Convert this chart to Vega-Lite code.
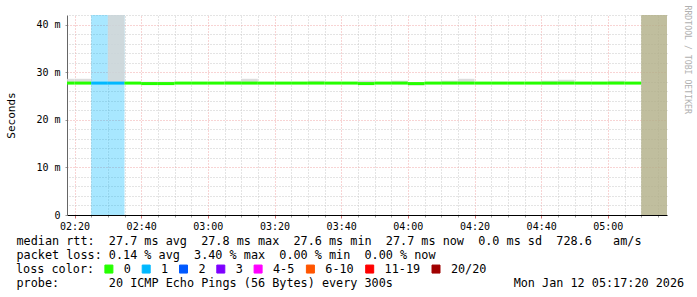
{
  "$schema": "https://vega.github.io/schema/vega-lite/v6.json",
  "width": 600,
  "height": 200,
  "autosize": {"type": "none"},
  "padding": {"left": 67, "top": 15, "right": 30, "bottom": 82},
  "background": "#ffffff",
  "config": {"view": {"stroke": null}, "font": "DejaVu Sans Mono"},
  "datasets": {
    "iv": [
      {"t0": "2026-01-12T02:15:00Z", "t1": "2026-01-12T02:20:00Z", "med": 27.7, "lo": 27.6, "hi": 28.6, "loss": "0"},
      {"t0": "2026-01-12T02:20:00Z", "t1": "2026-01-12T02:25:00Z", "med": 27.7, "lo": 27.6, "hi": 28.6, "loss": "0"},
      {"t0": "2026-01-12T02:25:00Z", "t1": "2026-01-12T02:30:00Z", "med": 27.7, "lo": 27.6, "hi": 27.8, "loss": "1"},
      {"t0": "2026-01-12T02:30:00Z", "t1": "2026-01-12T02:35:00Z", "med": 27.7, "lo": 27.6, "hi": 45.0, "loss": "1"},
      {"t0": "2026-01-12T02:35:00Z", "t1": "2026-01-12T02:40:00Z", "med": 27.7, "lo": 27.6, "hi": 27.8, "loss": "0"},
      {"t0": "2026-01-12T02:40:00Z", "t1": "2026-01-12T02:45:00Z", "med": 27.6, "lo": 27.5, "hi": 28.0, "loss": "0"},
      {"t0": "2026-01-12T02:45:00Z", "t1": "2026-01-12T02:50:00Z", "med": 27.6, "lo": 27.5, "hi": 28.0, "loss": "0"},
      {"t0": "2026-01-12T02:50:00Z", "t1": "2026-01-12T02:55:00Z", "med": 27.7, "lo": 27.6, "hi": 27.8, "loss": "0"},
      {"t0": "2026-01-12T02:55:00Z", "t1": "2026-01-12T03:00:00Z", "med": 27.7, "lo": 27.6, "hi": 27.8, "loss": "0"},
      {"t0": "2026-01-12T03:00:00Z", "t1": "2026-01-12T03:05:00Z", "med": 27.7, "lo": 27.6, "hi": 27.8, "loss": "0"},
      {"t0": "2026-01-12T03:05:00Z", "t1": "2026-01-12T03:10:00Z", "med": 27.7, "lo": 27.6, "hi": 28.2, "loss": "0"},
      {"t0": "2026-01-12T03:10:00Z", "t1": "2026-01-12T03:15:00Z", "med": 27.7, "lo": 27.6, "hi": 28.6, "loss": "0"},
      {"t0": "2026-01-12T03:15:00Z", "t1": "2026-01-12T03:20:00Z", "med": 27.7, "lo": 27.6, "hi": 27.8, "loss": "0"},
      {"t0": "2026-01-12T03:20:00Z", "t1": "2026-01-12T03:25:00Z", "med": 27.7, "lo": 27.6, "hi": 27.8, "loss": "0"},
      {"t0": "2026-01-12T03:25:00Z", "t1": "2026-01-12T03:30:00Z", "med": 27.7, "lo": 27.6, "hi": 27.8, "loss": "0"},
      {"t0": "2026-01-12T03:30:00Z", "t1": "2026-01-12T03:35:00Z", "med": 27.7, "lo": 27.6, "hi": 28.2, "loss": "0"},
      {"t0": "2026-01-12T03:35:00Z", "t1": "2026-01-12T03:40:00Z", "med": 27.7, "lo": 27.6, "hi": 27.8, "loss": "0"},
      {"t0": "2026-01-12T03:40:00Z", "t1": "2026-01-12T03:45:00Z", "med": 27.7, "lo": 27.6, "hi": 27.8, "loss": "0"},
      {"t0": "2026-01-12T03:45:00Z", "t1": "2026-01-12T03:50:00Z", "med": 27.6, "lo": 27.5, "hi": 28.2, "loss": "0"},
      {"t0": "2026-01-12T03:50:00Z", "t1": "2026-01-12T03:55:00Z", "med": 27.7, "lo": 27.6, "hi": 27.8, "loss": "0"},
      {"t0": "2026-01-12T03:55:00Z", "t1": "2026-01-12T04:00:00Z", "med": 27.7, "lo": 27.6, "hi": 28.2, "loss": "0"},
      {"t0": "2026-01-12T04:00:00Z", "t1": "2026-01-12T04:05:00Z", "med": 27.6, "lo": 27.2, "hi": 27.8, "loss": "0"},
      {"t0": "2026-01-12T04:05:00Z", "t1": "2026-01-12T04:10:00Z", "med": 27.7, "lo": 27.6, "hi": 27.8, "loss": "0"},
      {"t0": "2026-01-12T04:10:00Z", "t1": "2026-01-12T04:15:00Z", "med": 27.7, "lo": 27.6, "hi": 28.2, "loss": "0"},
      {"t0": "2026-01-12T04:15:00Z", "t1": "2026-01-12T04:20:00Z", "med": 27.7, "lo": 27.6, "hi": 28.6, "loss": "0"},
      {"t0": "2026-01-12T04:20:00Z", "t1": "2026-01-12T04:25:00Z", "med": 27.7, "lo": 27.6, "hi": 27.8, "loss": "0"},
      {"t0": "2026-01-12T04:25:00Z", "t1": "2026-01-12T04:30:00Z", "med": 27.7, "lo": 27.6, "hi": 27.8, "loss": "0"},
      {"t0": "2026-01-12T04:30:00Z", "t1": "2026-01-12T04:35:00Z", "med": 27.7, "lo": 27.6, "hi": 27.8, "loss": "0"},
      {"t0": "2026-01-12T04:35:00Z", "t1": "2026-01-12T04:40:00Z", "med": 27.7, "lo": 27.6, "hi": 27.8, "loss": "0"},
      {"t0": "2026-01-12T04:40:00Z", "t1": "2026-01-12T04:45:00Z", "med": 27.7, "lo": 27.4, "hi": 28.2, "loss": "0"},
      {"t0": "2026-01-12T04:45:00Z", "t1": "2026-01-12T04:50:00Z", "med": 27.7, "lo": 27.6, "hi": 28.4, "loss": "0"},
      {"t0": "2026-01-12T04:50:00Z", "t1": "2026-01-12T04:55:00Z", "med": 27.7, "lo": 27.6, "hi": 27.8, "loss": "0"},
      {"t0": "2026-01-12T04:55:00Z", "t1": "2026-01-12T05:00:00Z", "med": 27.7, "lo": 27.6, "hi": 27.8, "loss": "0"},
      {"t0": "2026-01-12T05:00:00Z", "t1": "2026-01-12T05:05:00Z", "med": 27.7, "lo": 27.6, "hi": 28.2, "loss": "0"},
      {"t0": "2026-01-12T05:05:00Z", "t1": "2026-01-12T05:10:00Z", "med": 27.7, "lo": 27.6, "hi": 27.8, "loss": "0"}
    ],
    "unk": [
      {"t0": "2026-01-12T05:10:00Z", "t1": "2026-01-12T05:20:00Z"}
    ]
  },
  "resolve": {"axis": {"x": "independent", "y": "independent"}},
  "layer": [
    {
      "data": {"name": "unk"},
      "mark": {"type": "rect", "color": "#b0ae86", "opacity": 0.8, "clip": true},
      "encoding": {
        "x": {
          "field": "t0", "type": "temporal",
          "scale": {"type": "utc", "domain": [1768184265000, 1768195065000]},
          "axis": {
            "orient": "bottom",
            "values": [1768184700000, 1768185000000, 1768185300000, 1768185900000, 1768186200000, 1768186500000, 1768187100000, 1768187400000, 1768187700000, 1768188300000, 1768188600000, 1768188900000, 1768189500000, 1768189800000, 1768190100000, 1768190700000, 1768191000000, 1768191300000, 1768191900000, 1768192200000, 1768192500000, 1768193100000, 1768193400000, 1768193700000, 1768194300000, 1768194600000, 1768194900000],
            "grid": true, "gridColor": "#c8c8c8", "gridDash": [1, 2], "gridWidth": 1,
            "labels": false, "ticks": true, "tickSize": 2, "tickColor": "#999999",
            "domain": false,
            "title": "probe:\u00a0\u00a0\u00a0\u00a0\u00a0\u00a0\u00a020 ICMP Echo Pings (56 Bytes) every 300s\u00a0\u00a0\u00a0\u00a0\u00a0\u00a0\u00a0\u00a0\u00a0\u00a0\u00a0\u00a0\u00a0\u00a0\u00a0\u00a0\u00a0Mon Jan 12 05:17:20 2026",
            "titleFont": "DejaVu Sans Mono", "titleFontSize": 11.8, "titleFontWeight": "normal", "titleColor": "#000000",
            "titleAlign": "left", "titleAnchor": "start", "titleBaseline": "alphabetic",
            "titleX": -51, "titleY": 71.3
          }
        },
        "x2": {"field": "t1"}
      }
    },
    {
      "data": {"name": "iv"},
      "transform": [{"filter": "datum.loss != '0'"}],
      "mark": {"type": "rect", "opacity": 0.34, "clip": true},
      "encoding": {
        "x": {
          "field": "t0", "type": "temporal",
          "scale": {"type": "utc", "domain": [1768184265000, 1768195065000]},
          "axis": {
            "orient": "bottom",
            "values": [1768184400000, 1768185600000, 1768186800000, 1768188000000, 1768189200000, 1768190400000, 1768191600000, 1768192800000, 1768194000000],
            "format": "%H:%M",
            "grid": true, "gridColor": "#f0a8a8", "gridDash": [1, 2], "gridWidth": 1,
            "labelFont": "DejaVu Sans Mono", "labelFontSize": 10, "labelColor": "#000000", "labelPadding": 3,
            "ticks": true, "tickSize": 3, "tickColor": "#d07070",
            "domain": true, "domainColor": "#000000", "domainWidth": 1,
            "title": [
              "median rtt:\u00a0\u00a027.7 ms avg\u00a0\u00a027.8 ms max\u00a0\u00a027.6 ms min\u00a0\u00a027.7 ms now\u00a0\u00a00.0 ms sd\u00a0\u00a0728.6\u00a0\u00a0\u00a0am/s",
              "packet loss: 0.14 % avg\u00a0\u00a03.40 % max\u00a0\u00a00.00 % min\u00a0\u00a00.00 % now"
            ],
            "titleFont": "DejaVu Sans Mono", "titleFontSize": 11.8, "titleFontWeight": "normal", "titleColor": "#000000",
            "titleAlign": "left", "titleAnchor": "start", "titleBaseline": "alphabetic",
            "titleX": -51, "titleY": 29.5, "titleLineHeight": 13.9
          }
        },
        "x2": {"field": "t1"},
        "color": {
          "field": "loss", "type": "nominal",
          "scale": {
            "domain": ["0", "1", "2", "3", "4-5", "6-10", "11-19", "20/20"],
            "range": ["#26ff00", "#00b8ff", "#0059ff", "#7e00ff", "#ff00ff", "#ff5500", "#ff0000", "#a00000"]
          },
          "legend": {
            "title": "loss color:",
            "orient": "none", "legendX": -51, "legendY": 248,
            "direction": "horizontal",
            "titleOrient": "left", "titleFont": "DejaVu Sans Mono", "titleFontSize": 11.8, "titleFontWeight": "normal", "titleColor": "#000000", "titlePadding": 8,
            "labelFont": "DejaVu Sans Mono", "labelFontSize": 11.8, "labelColor": "#000000", "labelOffset": 9,
            "columnPadding": 8.3,
            "symbolType": "square", "symbolSize": 64, "symbolOpacity": 1,
            "symbolStrokeColor": "#000000", "symbolStrokeWidth": 1,
            "encode": {"symbols": {"update": {"stroke": {"value": "#000000"}, "strokeWidth": {"value": 1}, "opacity": {"value": 1}}}}
          }
        }
      }
    },
    {
      "data": {"name": "iv"},
      "mark": {"type": "rect", "color": "#d6d6d6", "opacity": 0.85, "clip": true},
      "encoding": {
        "x": {"field": "t0", "type": "temporal", "scale": {"type": "utc", "domain": [1768184265000, 1768195065000]}, "axis": null},
        "x2": {"field": "t1"},
        "y": {
          "field": "lo", "type": "quantitative",
          "scale": {"domain": [0, 42], "nice": false, "zero": true},
          "axis": {
            "orient": "right",
            "values": [2, 4, 6, 8, 12, 14, 16, 18, 22, 24, 26, 28, 32, 34, 36, 38, 42],
            "grid": true, "gridColor": "#c8c8c8", "gridDash": [1, 2], "gridWidth": 1,
            "labels": false, "ticks": false, "domain": false,
            "title": "RRDTOOL / TOBI OETIKER",
            "titleAngle": 90, "titleAlign": "left", "titleBaseline": "middle",
            "titleX": 19, "titleY": -10,
            "titleFont": "DejaVu Sans Mono", "titleFontSize": 8.2, "titleFontWeight": "normal", "titleColor": "#b0b0b0"
          }
        },
        "y2": {"field": "hi"}
      }
    },
    {
      "data": {"name": "iv"},
      "mark": {"type": "rule", "strokeWidth": 3, "clip": true},
      "encoding": {
        "x": {"field": "t0", "type": "temporal", "scale": {"type": "utc", "domain": [1768184265000, 1768195065000]}, "axis": null},
        "x2": {"field": "t1"},
        "y": {
          "field": "med", "type": "quantitative",
          "scale": {"domain": [0, 42], "nice": false, "zero": true},
          "axis": {
            "orient": "left",
            "values": [0, 10, 20, 30, 40],
            "grid": true, "gridColor": "#f0a8a8", "gridDash": [1, 2], "gridWidth": 1,
            "labelExpr": "datum.value == 0 ? '0' : datum.value + ' m'",
            "labelFont": "DejaVu Sans Mono", "labelFontSize": 10, "labelColor": "#000000", "labelPadding": 5,
            "ticks": true, "tickSize": 2, "tickColor": "#999999",
            "domain": true, "domainColor": "#666666", "domainWidth": 1,
            "title": "Seconds",
            "titleFont": "DejaVu Sans Mono", "titleFontSize": 11, "titleFontWeight": "normal", "titleColor": "#000000", "titlePadding": 19
          }
        },
        "color": {"field": "loss", "type": "nominal", "legend": null}
      }
    }
  ]
}
